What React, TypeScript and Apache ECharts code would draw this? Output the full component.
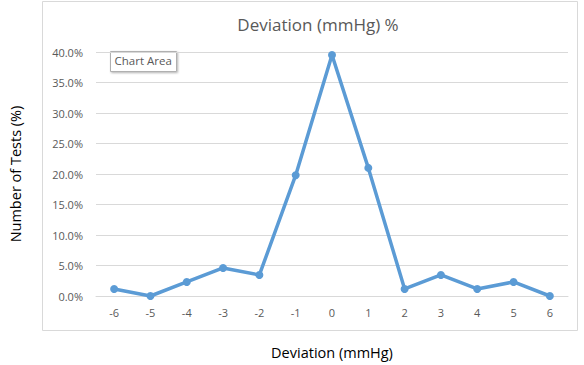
import React, { useEffect, useRef } from "react";
import * as echarts from "echarts";

const deviations = ["-6", "-5", "-4", "-3", "-2", "-1", "0", "1", "2", "3", "4", "5", "6"];
const testShare = [1.15, 0, 2.3, 4.6, 3.45, 19.8, 39.5, 21.0, 1.15, 3.45, 1.15, 2.3, 0];

const FONT = "'Open Sans', 'Noto Sans', sans-serif";

export default function App() {
  const ref = useRef<HTMLDivElement>(null);

  useEffect(() => {
    if (!ref.current) return;
    const chart = echarts.init(ref.current, undefined, { renderer: "svg" });
    chart.setOption({
      animation: false,
      backgroundColor: "#ffffff",
      title: {
        text: "Deviation (mmHg) %",
        left: 313,
        top: 11,
        textAlign: "center",
        textStyle: { fontFamily: FONT, fontSize: 17, fontWeight: "normal", color: "#595959" },
      },
      grid: { left: 95, right: 16, top: 52, bottom: 67 },
      xAxis: {
        type: "category",
        data: deviations,
        boundaryGap: true,
        name: "Deviation (mmHg)",
        nameLocation: "middle",
        nameGap: 49,
        nameTextStyle: { fontFamily: FONT, fontSize: 14.5, color: "#000000" },
        axisLine: { show: true, lineStyle: { color: "#d9d9d9", width: 1 } },
        axisTick: { show: false },
        axisLabel: { fontFamily: FONT, fontSize: 11, color: "#595959", margin: 11 },
      },
      yAxis: {
        type: "value",
        min: 0,
        max: 40,
        interval: 5,
        name: "Number of Tests (%)",
        nameLocation: "middle",
        nameGap: 73,
        nameTextStyle: { fontFamily: FONT, fontSize: 14.5, color: "#000000" },
        axisLine: { show: false },
        axisTick: { show: false },
        splitLine: { lineStyle: { color: "#d9d9d9", width: 1 } },
        axisLabel: {
          fontFamily: FONT,
          fontSize: 11,
          color: "#595959",
          margin: 13,
          formatter: (v: number) => v.toFixed(1) + "%",
        },
      },
      series: [
        {
          type: "line",
          data: testShare,
          symbol: "circle",
          symbolSize: 8,
          lineStyle: { color: "#5b9bd5", width: 3.5 },
          itemStyle: { color: "#5b9bd5" },
        },
      ],
      graphic: [
        {
          type: "rect",
          shape: { x: 42.5, y: 1.5, width: 535, height: 329 },
          style: { fill: "none", stroke: "#d9d9d9", lineWidth: 1 },
          silent: true,
        },
        {
          type: "group",
          left: 110,
          top: 51,
          children: [
            {
              type: "rect",
              shape: { x: 0, y: 0, width: 66, height: 20 },
              style: {
                fill: "#ffffff",
                stroke: "#b0b0b0",
                lineWidth: 1,
                shadowBlur: 2,
                shadowOffsetX: 1,
                shadowOffsetY: 1,
                shadowColor: "rgba(0,0,0,0.3)",
              },
            },
            {
              type: "text",
              x: 4,
              y: 3,
              style: { text: "Chart Area", fontFamily: FONT, fontSize: 11.5, fill: "#595959" },
            },
          ],
        },
      ],
    });
    return () => chart.dispose();
  }, []);

  return (
    <div
      ref={ref}
      style={{ position: "absolute", left: 0, top: 0, width: 584, height: 365 }}
    />
  );
}
